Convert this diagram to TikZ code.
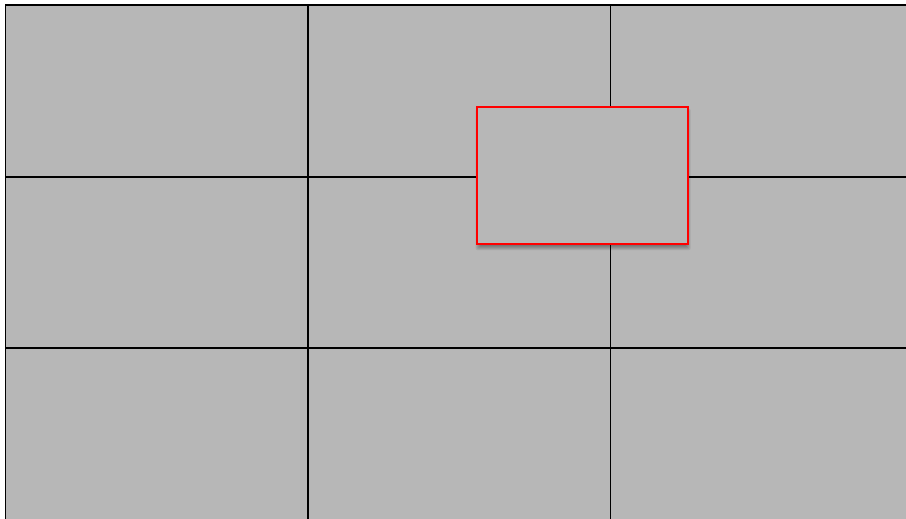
\documentclass[tikz,border=0pt]{standalone}
\usepackage{tikz}
\definecolor{grigio}{RGB}{183,183,183}

\begin{document}
\begin{tikzpicture}[x=1pt,y=-1pt]
        \useasboundingbox (0,0) rectangle (906,519);
        % Sfondo
        \fill[grigio] (5.5,5) rectangle (906,519);
        % Griglia
        \begin{scope}
            \clip (0,0) rectangle (906,519);
            \draw[line width=1.4pt] (5.5,519.5) -- (5.5,5) -- (906,5);
            \draw[line width=1.4pt] (308,5) -- (308,519.5);
            \draw[line width=1.4pt] (610.5,5) -- (610.5,519.5);
            \draw[line width=1.4pt] (5.5,177) -- (906,177);
            \draw[line width=1.4pt] (5.5,348) -- (906,348);
            \draw[line width=1.4pt] (5.5,519.5) -- (906,519.5);
        \end{scope}
        % Ombra sfumata
        \foreach \s in {-5,-4,...,2}
            \fill[black, opacity=0.08, rounded corners=2pt]
                (477.7-\s,110.7-\s) rectangle (688.7+\s,248.2+\s);
        % Riquadro rosso
        \node[draw=red, line width=2pt, fill=grigio, inner sep=0pt,
              minimum width=211pt, minimum height=137pt]
            (riquadro) at (582.2,175.2) {};
    \end{tikzpicture}
\end{document}
